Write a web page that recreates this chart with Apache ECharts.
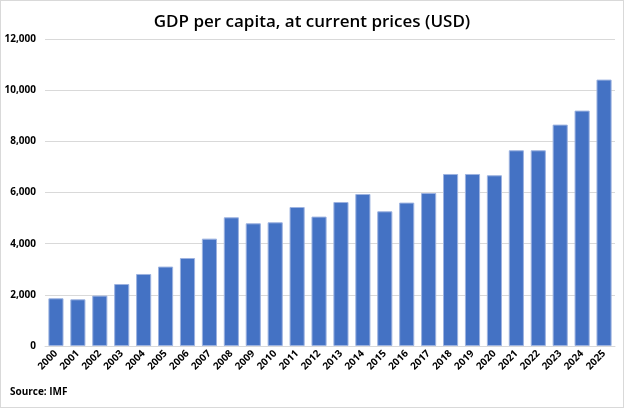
<!DOCTYPE html>
<html>
<head>
<meta charset="UTF-8">
<script src="https://cdn.jsdelivr.net/npm/echarts@6/dist/echarts.min.js"></script>
<style>
  html, body { margin: 0; padding: 0; background: #fff; }
  #chart { width: 622px; height: 406px; border: 1px solid #d9d9d9; }
</style>
</head>
<body>
<div id="chart"></div>
<script>
// years and GDP per capita (USD)
var years = ['2000','2001','2002','2003','2004','2005','2006','2007','2008','2009','2010','2011','2012',
             '2013','2014','2015','2016','2017','2018','2019','2020','2021','2022','2023','2024','2025'];
var gdpPerCapita = [1865, 1825, 1970, 2424, 2815, 3104, 3440, 4197, 5030, 4796, 4835, 5433, 5058,
                    5629, 5942, 5265, 5605, 5981, 6724, 6724, 6673, 7650, 7650, 8654, 9201, 10413];
var yTicks = [0, 2000, 4000, 6000, 8000, 10000, 12000];

var font = 'Open Sans, Noto Sans, sans-serif';
var myChart = echarts.init(document.getElementById('chart'));
var option = {
    animation: false,
    title: {
        text: 'GDP per capita, at current prices (USD)',
        left: 'center',
        top: 8,
        textStyle: { fontFamily: font, fontSize: 17, fontWeight: 600, color: '#000' }
    },
    graphic: [{
        type: 'text',
        left: 9,
        top: 386,
        style: { text: 'Source: IMF', font: 'bold 10px ' + font, fill: '#000' }
    }],
    grid: { left: 44, right: 8, top: 38, bottom: 61 },
    xAxis: {
        type: 'category',
        data: years,
        axisTick: { show: false },
        axisLine: { lineStyle: { color: '#d9d9d9', width: 1 } },
        axisLabel: {
            rotate: 45, interval: 0, margin: 6,
            fontFamily: font, fontSize: 10, fontWeight: 'bold', color: '#000'
        }
    },
    yAxis: {
        type: 'value',
        min: yTicks[0],
        max: yTicks[yTicks.length - 1],
        interval: 2000,
        axisLine: { show: false },
        axisTick: { show: false },
        splitLine: { lineStyle: { color: '#d9d9d9', width: 1 } },
        axisLabel: {
            margin: 9,
            fontFamily: font, fontSize: 10, fontWeight: 'bold', color: '#000',
            formatter: function (v) { return v.toLocaleString('en-US'); }
        }
    },
    series: [{
        type: 'bar',
        data: gdpPerCapita,
        barCategoryGap: '31%',
        itemStyle: { color: '#4472c4', borderColor: '#9db3e0', borderWidth: 1 }
    }]
};
myChart.setOption(option);
</script>
</body>
</html>
